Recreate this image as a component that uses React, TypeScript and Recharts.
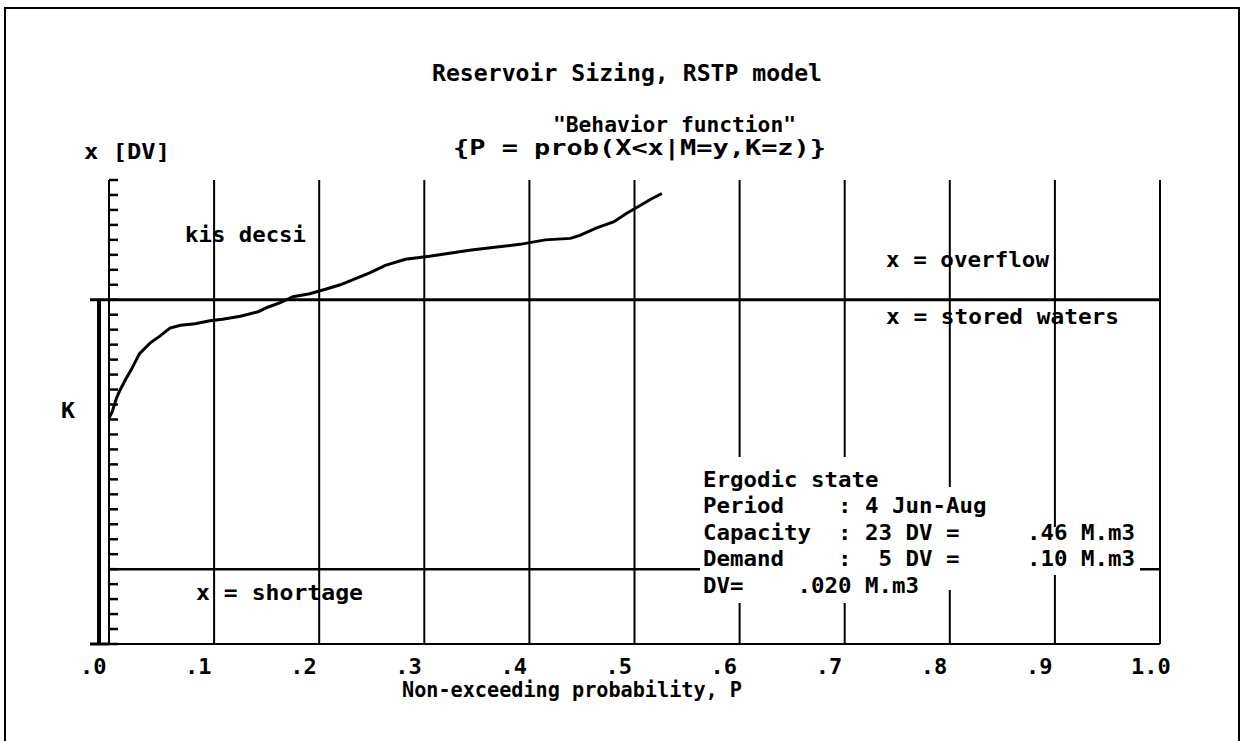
import { LineChart, Line, XAxis, YAxis, CartesianGrid, ReferenceLine } from 'recharts'

const W = 1244, H = 741
const M = { top: 180, left: 109, right: 84, bottom: 67 }
const XH = 30
const PLOT_R = W - M.right
const PLOT_B = H - M.bottom - XH

// behaviour function
const P_VALUES = [0.0, 0.003, 0.007, 0.010, 0.016, 0.021, 0.029, 0.039, 0.049, 0.058, 0.068, 0.082, 0.096, 0.108, 0.125, 0.142, 0.151, 0.163, 0.175, 0.191, 0.206, 0.220, 0.234, 0.248, 0.263, 0.282, 0.305, 0.324, 0.343, 0.367, 0.391, 0.415, 0.439, 0.448, 0.464, 0.480, 0.493, 0.503, 0.515, 0.526]
const X_VALUES = [15.1, 15.5, 16.4, 16.9, 17.7, 18.3, 19.4, 20.1, 20.6, 21.1, 21.3, 21.4, 21.6, 21.7, 21.9, 22.2, 22.5, 22.8, 23.2, 23.4, 23.7, 24.0, 24.4, 24.8, 25.3, 25.7, 25.9, 26.1, 26.3, 26.5, 26.7, 27.0, 27.1, 27.3, 27.8, 28.2, 28.8, 29.2, 29.7, 30.1]

const P_TICKS = [0, 0.1, 0.2, 0.3, 0.4, 0.5, 0.6, 0.7, 0.8, 0.9, 1.0]
const P_LABELS = ['.0', '.1', '.2', '.3', '.4', '.5', '.6', '.7', '.8', '.9', '1.0']
const DV_TICKS = [0, 1, 2, 3, 4, 5, 6, 7, 8, 9, 10, 11, 12, 13, 14, 15, 16, 17, 18, 19, 20, 21, 22, 23, 24, 25, 26, 27, 28, 29, 30, 31]
const DV_MAX = 31
const OVERFLOW = 23
const SHORTAGE = 5

const ERGODIC_ROWS = [
  'Ergodic state',
  'Period    : 4 Jun-Aug',
  'Capacity  : 23 DV =     .46 M.m3',
  'Demand    :  5 DV =     .10 M.m3',
  'DV=    .020 M.m3',
]

const data = P_VALUES.map((p, i) => ({ p, x: X_VALUES[i] }))

const mono = '"DejaVu Sans Mono", monospace'
const sx = (p: number) => M.left + p * (PLOT_R - M.left)
const sy = (v: number) => PLOT_B - (v / DV_MAX) * (PLOT_B - M.top)

// text placed by vertical centre, stretched to the width seen in the picture
function T({ x, y, w, s = 22, children }: { x: number; y: number; w?: number; s?: number; children: string }) {
  return (
    <text x={x} y={y + s * 0.36} fontFamily={mono} fontWeight="bold" fontSize={s} fill="#000"
      textLength={w} lengthAdjust={w ? 'spacingAndGlyphs' : undefined} xmlSpace="preserve" style={{ whiteSpace: 'pre' }}>
      {children}
    </text>
  )
}

function PTick(props: any) {
  const { x, payload } = props
  const i = P_TICKS.findIndex(t => Math.abs(t - payload.value) < 1e-6)
  return (
    <text x={x - 29} y={PLOT_B + 30} textAnchor="start" fontFamily={mono} fontWeight="bold" fontSize={22} fill="#000">
      {P_LABELS[i]}
    </text>
  )
}

const NoLabel = () => <g />

export default function App() {
  const ergX = 703
  return (
    <div style={{ position: 'absolute', left: 0, top: 0, width: W, height: H, background: '#fff', overflow: 'hidden' }}>
      <LineChart width={W} height={H} data={data} margin={M}>
        <CartesianGrid horizontal={false} stroke="#000" strokeWidth={2} strokeDasharray="" />
        <XAxis dataKey="p" type="number" domain={[0, 1]} ticks={P_TICKS} height={XH}
          axisLine={{ stroke: '#000', strokeWidth: 2 }} tickLine={false} tick={<PTick />} />
        <YAxis type="number" domain={[0, DV_MAX]} ticks={DV_TICKS} interval={0} mirror tick={<NoLabel />} tickSize={9}
          axisLine={{ stroke: '#000', strokeWidth: 2 }} tickLine={{ stroke: '#000', strokeWidth: 2.5 }} />
        <ReferenceLine y={OVERFLOW} stroke="#000" strokeWidth={3} />
        <ReferenceLine y={SHORTAGE} stroke="#000" strokeWidth={2.5} />
        <Line dataKey="x" type="linear" stroke="#000" strokeWidth={3} dot={false} isAnimationActive={false} />
      </LineChart>

      <svg width={W} height={H} style={{ position: 'absolute', left: 0, top: 0, pointerEvents: 'none' }}>
        {/* page frame */}
        <path d={`M5 ${H} V8 H1239 V${H}`} fill="none" stroke="#000" strokeWidth={2} />

        {/* K bracket */}
        <line x1={99} x2={99} y1={sy(OVERFLOW)} y2={sy(0)} stroke="#000" strokeWidth={4} />
        <line x1={90} x2={M.left} y1={sy(OVERFLOW)} y2={sy(OVERFLOW)} stroke="#000" strokeWidth={3} />
        <line x1={90} x2={M.left} y1={sy(0)} y2={sy(0)} stroke="#000" strokeWidth={3} />

        {/* blanked area under the state box */}
        <rect x={700} y={457} width={200} height={146} fill="#fff" />
        <rect x={900} y={487} width={110} height={103} fill="#fff" />
        <rect x={1010} y={527} width={130} height={48} fill="#fff" />

        <T x={432} y={73} w={390} s={23}>Reservoir Sizing, RSTP model</T>
        <T x={553} y={124} w={243}>"Behavior function"</T>
        <T x={453} y={147} w={373}>{'{P = prob(X<x|M=y,K=z)}'}</T>
        <T x={84} y={151} w={86}>x [DV]</T>
        <T x={185} y={234} w={121}>kis decsi</T>
        <T x={886} y={259} w={163}>x = overflow</T>
        <T x={886} y={316} w={233}>x = stored waters</T>
        <T x={61} y={410} w={14}>K</T>
        <T x={196} y={592} w={167}>x = shortage</T>

        {ERGODIC_ROWS.map((r, i) => (
          <T key={i} x={ergX} y={479 + i * 26.5} w={r.length * 13.5}>{r}</T>
        ))}

        <T x={402} y={689} w={340}>Non-exceeding probability, P</T>
        <line x1={sx(0)} x2={sx(0)} y1={M.top} y2={PLOT_B} stroke="#000" strokeWidth={2} />
      </svg>
    </div>
  )
}
